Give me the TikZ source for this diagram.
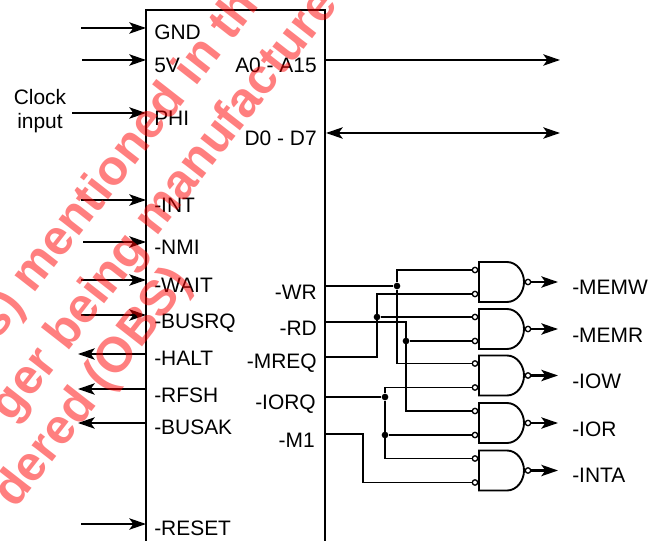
\documentclass[tikz,border=0pt]{standalone}
\usepackage{fontspec}
\setmainfont{Liberation Sans}
\usetikzlibrary{arrows.meta}
\tikzstyle{chipbox} = [rectangle, draw=black, line width=1.5pt, minimum width=134.25pt, minimum height=412.5pt, inner sep=0pt, outer sep=0pt]
\tikzstyle{pinl} = [anchor=west, inner sep=0pt, text height=11.3pt, text depth=0pt, font=\fontsize{15.7}{18}\selectfont]
\tikzstyle{pinr} = [anchor=east, inner sep=0pt, text height=11.3pt, text depth=0pt, font=\fontsize{15.7}{18}\selectfont]
\tikzstyle{dot} = [circle, fill=black, minimum size=5pt, inner sep=0pt]
\tikzstyle{arrow} = [line width=1.6pt,-{Stealth[length=12.5pt,width=8.5pt,inset=3pt]}]
\tikzstyle{wire} = [line width=1.4pt]
\tikzstyle{wmark} = [red, opacity=0.5, font=\bfseries\fontsize{37}{39}\selectfont, rotate=52, anchor=base west, inner sep=0pt]
\tikzset{
	nandg/.pic={
		\draw [wire] (0,-20) -- (28,-20) .. controls (38,-20) and (45,-10) .. (45,0) .. controls (45,10) and (38,20) .. (28,20) -- (0,20) -- cycle;
		\draw [line width=1pt, fill=white] (-4,-12) circle (2.7);
		\draw [line width=1pt, fill=white] (-4,12) circle (2.7);
		\draw [line width=1pt, fill=white] (49,0) circle (2.7);
		\coordinate (-in1) at (-6.7,-12);
		\coordinate (-in2) at (-6.7,12);
		\coordinate (-out) at (51.7,0);
	}
}
\begin{document}
\begin{tikzpicture}[x=0.75pt, y=-0.75pt]
	\clip (0,0) rectangle (656,541);
	\fill [white] (0,0) rectangle (656,541);
	\node (chip) [chipbox] at (235.5,285) {};
	%left labels
	\node (gnd) [pinl] at (154,32) {GND};
	\node (vcc) [pinl] at (154,65) {5V};
	\node (phi) [pinl] at (154,118) {PHI};
	\node (int) [pinl] at (154,205) {-INT};
	\node (nmi) [pinl] at (154,247) {-NMI};
	\node (wait) [pinl] at (154,285) {-WAIT};
	\node (busrq) [pinl] at (154,321) {-BUSRQ};
	\node (halt) [pinl] at (154,358) {-HALT};
	\node (rfsh) [pinl] at (154,395) {-RFSH};
	\node (busak) [pinl] at (154,427) {-BUSAK};
	\node (reset) [pinl] at (154,528) {-RESET};
	\node (clock) [align=center, inner sep=0pt, font=\fontsize{15.7}{18}\selectfont] at (40,111) {Clock\\input};
	%right labels
	\node (addr) [pinr] at (317,65) {A0 - A15};
	\node (data) [pinr] at (317,138) {D0 - D7};
	\node (wr) [pinr] at (317,292) {-WR};
	\node (rd) [pinr] at (317,328) {-RD};
	\node (mreq) [pinr] at (317,361) {-MREQ};
	\node (iorq) [pinr] at (316,402) {-IORQ};
	\node (mone) [pinr] at (315,440) {-M1};
	%gates
	\pic (g1) at (479,282) {nandg};
	\pic (g2) at (479,329) {nandg};
	\pic (g3) at (479,375.5) {nandg};
	\pic (g4) at (479,423) {nandg};
	\pic (g5) at (479,470.5) {nandg};
	\node (memw) [pinl] at (572,287) {-MEMW};
	\node (memr) [pinl] at (572,335) {-MEMR};
	\node (iow) [pinl] at (572,381) {-IOW};
	\node (ior) [pinl] at (572,429) {-IOR};
	\node (inta) [pinl] at (572,475) {-INTA};
	%junctions
	\node (j1) [dot] at (397,286) {};
	\node (j2) [dot] at (377,317) {};
	\node (j3) [dot] at (406,341) {};
	\node (j4) [dot] at (385,397) {};
	\node (j5) [dot] at (385,435) {};
	\coordinate (outend) at (558,0);
	\coordinate (busend) at (560,0);
	\coordinate (leftend) at (78,0);
	\coordinate (j6) at (377,357);
	\coordinate (j7) at (406,322);
	\coordinate (j8) at (363,434);
	%lines
	\draw [arrow] (81,28) coordinate (gndin) -- (gndin -| chip.west);
	\draw [arrow] (82,60) coordinate (vccin) -- (vccin -| chip.west);
	\draw [arrow] (72,113) coordinate (phiin) -- (phiin -| chip.west);
	\draw [arrow] (81,200) coordinate (intin) -- (intin -| chip.west);
	\draw [arrow] (83,242) coordinate (nmiin) -- (nmiin -| chip.west);
	\draw [arrow] (81,280) coordinate (waitin) -- (waitin -| chip.west);
	\draw [arrow] (81,315) coordinate (busrqin) -- (busrqin -| chip.west);
	\draw [arrow] (146,354) coordinate (haltout) -- (haltout -| leftend);
	\draw [arrow] (146,389) coordinate (rfshout) -- (rfshout -| leftend);
	\draw [arrow] (146,423) coordinate (busakout) -- (busakout -| leftend);
	\draw [arrow] (81,524) coordinate (resetin) -- (resetin -| chip.west);
	\draw [arrow] (325,60) coordinate (addrout) -- (addrout -| busend);
	\draw [arrow, {Stealth[length=12.5pt,width=8.5pt,inset=3pt]}-{Stealth[length=12.5pt,width=8.5pt,inset=3pt]}] (326,133) coordinate (dataout) -- (dataout -| busend);
	\draw [wire] (chip.east |- j1) -- (j1);
	\draw [wire] (g1-in1) -| (j1) |- (g3-in1);
	\draw [wire] (chip.east |- j6) -- (j6) |- (g1-in2);
	\draw [wire] (j2) -- (g2-in1);
	\draw [wire] (chip.east |- j7) -- (j7) |- (g4-in1);
	\draw [wire] (j3) -- (g2-in2);
	\draw [wire] (chip.east |- j4) -- (j4);
	\draw [wire] (g3-in2) -| (j4) |- (g5-in1);
	\draw [wire] (j5) -- (g4-in2);
	\draw [wire] (chip.east |- j8) -- (j8) |- (g5-in2);
	\draw [arrow] (g1-out) -- (g1-out -| outend);
	\draw [arrow] (g2-out) -- (g2-out -| outend);
	\draw [arrow] (g3-out) -- (g3-out -| outend);
	\draw [arrow] (g4-out) -- (g4-out -| outend);
	\draw [arrow] (g5-out) -- (g5-out -| outend);
	%stamp
	\node (wm1) [wmark] at (-1.8,340.5) {s) mentioned in th};
	\node (wm2) [wmark] at (11.5,423.8) {ger being manufacture};
	\node (wm3) [wmark] at (15,510) {dered (OBS)};
\end{tikzpicture}
\end{document}
